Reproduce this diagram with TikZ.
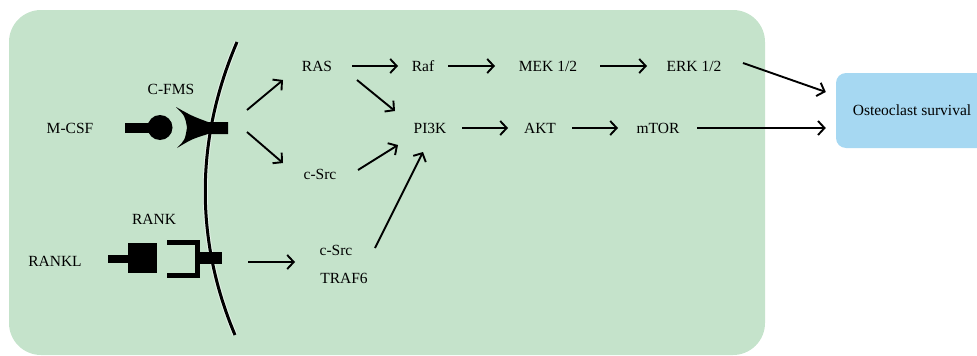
\documentclass[tikz,border=0pt]{standalone}
\usepackage{fontspec}
\setmainfont{Liberation Serif}
\usetikzlibrary{arrows.meta}
\definecolor{cellgreen}{RGB}{197,227,203}
\definecolor{survblue}{RGB}{166,216,242}
\begin{document}
\begin{tikzpicture}[x=1pt,y=-1pt,
  lbl/.style={inner sep=0pt, font=\fontsize{15.5}{18}\selectfont},
  arr/.style={line width=1.9pt, -{Straight Barb[length=6.5pt,width=14pt]}},
  halo/.style={preaction={draw=white, line width=5pt, opacity=0.6}}]
\useasboundingbox (0,0) rectangle (977,356);
% cell
\fill[cellgreen, rounded corners=32pt] (9,10) rectangle (765,355);
% survival box
\node[fill=survblue, rounded corners=10pt, minimum width=152pt, minimum height=75pt,
      inner sep=0pt, font=\fontsize{15.5}{18}\selectfont] (osteo) at (912,110.5) {Osteoclast survival};
% membrane
\draw[line width=3pt, halo] (237,42) .. controls (195,140) and (195,240) .. (235,335);
% labels
\node[lbl] (mcsf) at (70,128) {M-CSF};
\node[lbl] (cfmsl) at (171,89) {C-FMS};
\node[lbl] (rankl) at (55,261) {RANKL};
\node[lbl] (rankt) at (154,219) {RANK};
\node[lbl] (ras) at (317,66) {RAS};
\node[lbl] (raf) at (423,66) {Raf};
\node[lbl] (mek) at (548,66) {MEK 1/2};
\node[lbl] (erk) at (694,66) {ERK 1/2};
\node[lbl] (pi3k) at (430,128) {PI3K};
\node[lbl] (akt) at (540,128) {AKT};
\node[lbl] (mtor) at (658,128) {mTOR};
\node[lbl] (csrc) at (320,174) {c-Src};
\node[lbl] (csrcb) at (336,250) {c-Src};
\node[lbl] (traf) at (344,278) {TRAF6};
% M-CSF ligand
\fill (125,123) rectangle (150,133);
\fill (160,127.5) circle (12.5);
% C-FMS receptor
\fill (176,107) .. controls (192,116) .. (208,122) -- (228,122) -- (228,134) -- (208,134)
  .. controls (192,139) .. (177,148) .. controls (185,140) .. (187,127.5)
  .. controls (185,116) .. cycle;
\coordinate (cfms) at (228,128);
% RANKL ligand
\fill (108,255) rectangle (130,263);
\fill (128,243) rectangle (157,273);
% RANK receptor
\draw[line width=4.5pt, line join=miter] (167,242.5) -- (197.5,242.5) -- (197.5,275.5) -- (167,275.5);
\fill (197,252) rectangle (222,264);
\coordinate (rank) at (222,258);
% connectors
\draw[arr] ([shift={(19,-18)}]cfms) -- ([shift={(-34,14)}]ras.center);
\draw[arr] ([shift={(19,4)}]cfms) -- ([shift={(-37,-11)}]csrc.center);
\draw[arr] ([shift={(26,4)}]rank) -- ([shift={(-41,12)}]csrcb.center);
\draw[arr] ([shift={(35,0)}]ras.center) -- ([shift={(-25,0)}]raf.center);
\draw[arr] ([shift={(25,0)}]raf.center) -- ([shift={(-53,0)}]mek.center);
\draw[arr] ([shift={(52,0)}]mek.center) -- ([shift={(-47,0)}]erk.center);
\draw[arr] ([shift={(49,-3)}]erk.center) -- ([shift={(-10,-18.5)}]osteo.west);
\draw[arr] ([shift={(40,14)}]ras.center) -- ([shift={(-35,-17)}]pi3k.center);
\draw[arr] ([shift={(38,-4)}]csrc.center) -- ([shift={(-32,17)}]pi3k.center);
\draw[arr] ([shift={(39,-2)}]csrcb.center) -- ([shift={(-7,24)}]pi3k.center);
\draw[arr] ([shift={(32,0)}]pi3k.center) -- ([shift={(-32,0)}]akt.center);
\draw[arr] ([shift={(32,0)}]akt.center) -- ([shift={(-40,0)}]mtor.center);
\draw[arr] ([shift={(39,0)}]mtor.center) -- ([shift={(-10,17.5)}]osteo.west);
\end{tikzpicture}
\end{document}
